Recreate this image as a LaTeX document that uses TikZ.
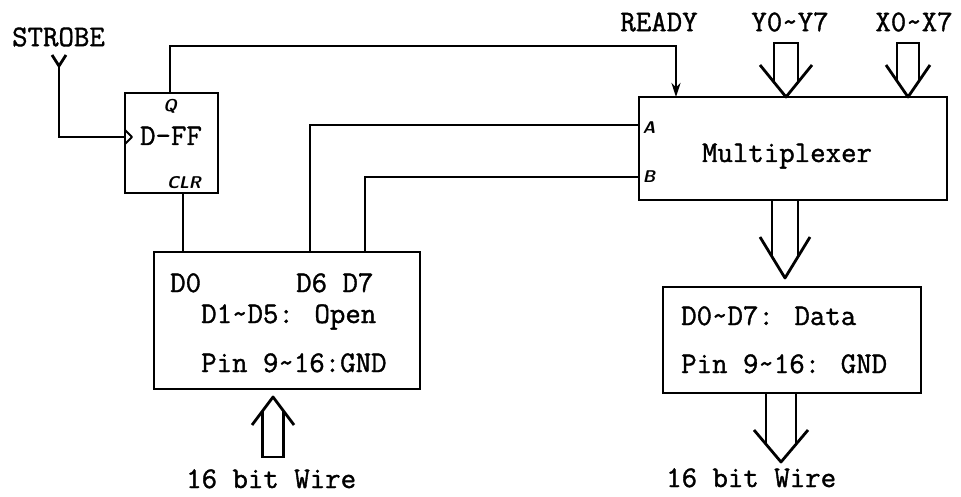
\documentclass[tikz,border=0pt]{standalone}
\usepackage{fontspec}
\newfontfamily\typew[FakeBold=1.2]{Latin Modern Mono}
\usetikzlibrary{arrows.meta,calc}
\newcommand\hollowarrow[6]{% c, ybase, ywing, ytip, shaft half, wing half
  \pgfmathsetmacro\hay{#3+(#4-#3)*(#6-#5)/#6}
  \draw[wire,line join=round] (#1-#6,#3) -- (#1,#4) -- (#1+#6,#3);
  \draw[wire] (#1-#5,\hay) -- (#1-#5,#2) -- (#1+#5,#2) -- (#1+#5,\hay);}
\begin{document}
\begin{tikzpicture}[x=1pt,y=-1pt,
  wire/.style={line width=2.8pt},
  blk/.style={draw,line width=2.8pt,rectangle,inner sep=0pt,outer sep=0pt},
  tt/.style={inner sep=0pt,font=\fontsize{30}{36}\selectfont\typew},
  pinlbl/.style={inner sep=0pt,font=\fontsize{17}{17}\selectfont\sffamily\bfseries\itshape}]
\useasboundingbox (0,0) rectangle (961,497);
% boxes
\node[blk,minimum width=93pt,minimum height=100pt] (dff) at (171.5,143) {};
\node[blk,minimum width=308pt,minimum height=103pt] (mux) at (793,148.5) {};
\node[blk,minimum width=266pt,minimum height=137pt] (lbox) at (287,320.5) {};
\node[blk,minimum width=258pt,minimum height=106pt] (dbox) at (792,340) {};
% texts
\node[tt] (strobe) at (58.5,37) {STROBE};
\node[tt] (ready) at (659,22) {READY};
\node[tt] (ylbl) at (790,22) {Y0\textasciitilde Y7};
\node[tt] (xlbl) at (914,22) {X0\textasciitilde X7};
\node[tt,anchor=base] (muxt) at (787,162) {Multiplexer};
\node[tt,anchor=base] (dfft) at (171,145) {D-FF};
\node[pinlbl] (q) at (170,106) {Q};
\node[pinlbl] (clr) at (184,183) {CLR};
\node[pinlbl] (la) at (649,128) {A};
\node[pinlbl] (lb) at (649,177) {B};
\node[tt,anchor=base west] (d0) at (170,292) {D0};
\node[tt,anchor=base west] (d67) at (296,292) {D6 D7};
\node[tt,anchor=base west] (d15) at (201,323) {D1\textasciitilde D5: Open};
\node[tt,anchor=base west] (pinl) at (201,372) {Pin 9\textasciitilde 16:GND};
\node[tt,anchor=base west] (wl) at (186,488) {16 bit Wire};
\node[tt,anchor=base west] (dd) at (681,325) {D0\textasciitilde D7: Data};
\node[tt,anchor=base west] (pinr) at (681,373) {Pin 9\textasciitilde 16: GND};
\node[tt,anchor=base west] (wr) at (666,487) {16 bit Wire};
% pin coordinates
\coordinate (fork) at (59,66);
\coordinate (clk) at (125,137);
\coordinate (qout) at (170,93);
\coordinate (rdyin) at ([xshift=37pt]mux.north west);
\coordinate (muxA) at ([yshift=-28pt]mux.north west);
\coordinate (muxB) at ([yshift=-80pt]mux.north west);
\coordinate (d0pin) at ([xshift=29pt]lbox.north west);
\coordinate (d6pin) at ([xshift=156pt]lbox.north west);
\coordinate (d7pin) at ([xshift=211pt]lbox.north west);
% strobe input
\draw[wire,line join=round] (52,55) -- (fork) -- (66,55);
\draw[wire] (fork) |- (clk);
\draw[line width=1.8pt,line join=round] (125,130) -- (132,137) -- (125,144);
% Q to READY
\draw[wire,-{Stealth[length=14pt,width=9pt]}] (qout) |- (676,46) -- (rdyin);
% CLR from D0
\draw[wire] (d0pin) -- (d0pin |- dff.south);
% D6 -> A, D7 -> B
\draw[wire] (d6pin) |- (muxA);
\draw[wire] (d7pin) |- (muxB);
% bus arrows
\hollowarrow{786}{43}{65}{97}{12}{26}
\hollowarrow{908}{43}{65}{97}{11}{22}
\hollowarrow{785}{200}{237}{278}{13}{25}
\hollowarrow{781}{393}{430}{462}{15}{27}
\hollowarrow{273}{457}{425}{397}{10.5}{21}
\end{tikzpicture}
\end{document}
